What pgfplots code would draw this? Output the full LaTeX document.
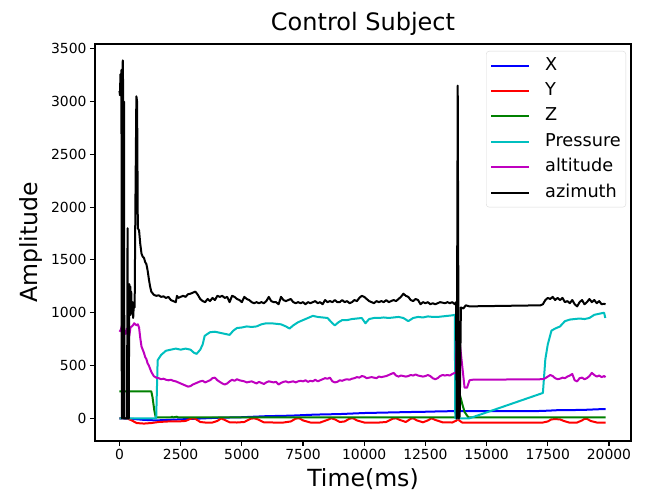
\documentclass[border=0pt]{standalone}
\usepackage{fontspec}
\setmainfont{DejaVu Sans}
\usepackage{pgfplots}
\pgfplotsset{compat=1.18}

\definecolor{mplb}{rgb}{0,0,1}
\definecolor{mplr}{rgb}{1,0,0}
\definecolor{mplg}{rgb}{0,0.5,0}
\definecolor{mplc}{rgb}{0,0.75,0.75}
\definecolor{mplm}{rgb}{0.75,0,0.75}

\begin{document}
\begin{tikzpicture}
\begin{axis}[
    scale only axis,
    width=536pt, height=397pt,
    xmin=-1000, xmax=20900,
    ymin=-215, ymax=3545,
    xtick={0,2500,...,20000},
    ytick={0,500,...,3500},
    scaled ticks=false,
    tick pos=left,
    tick align=outside,
    major tick length=5pt,
    every tick/.style={black, line width=1.1pt},
    axis line style={line width=1.1pt},
    ticklabel style={font=\fontsize{13.9}{16}\selectfont},
    /pgf/number format/assume math mode=true,
    /pgf/number format/set thousands separator={},
    title={Control Subject},
    title style={font=\fontsize{24}{28}\selectfont, at={(0.5,1)}, anchor=south, yshift=-1pt},
    xlabel={Time(ms)},
    xlabel style={font=\fontsize{23.6}{28}\selectfont, at={(axis description cs:0.5,0)}, anchor=north, yshift=-24pt},
    legend cell align=left,
    legend image code/.code={\draw[#1, line width=2pt] (0pt,0pt) -- (38pt,0pt);},
    legend style={
        at={(rel axis cs:1,1)}, anchor=north east, xshift=-5pt, yshift=-7pt,
        draw=black!15, rounded corners=3pt, fill=white,
        font=\fontsize{17.7}{20}\selectfont,
        inner xsep=4pt, inner ysep=5pt, row sep=6.4pt,
        nodes={inner sep=1pt, text height=13pt, text depth=4pt},
        /tikz/every odd column/.append style={column sep=14pt},
    },
    every axis plot/.append style={line width=2pt, line join=round},
]
% X
\addplot[mplb] coordinates {
(0,0) (500,-5) (1000,-15) (1500,-20) (2000,-15) (2500,-10) (3000,-5) (3500,0) (4000,5)
(5000,10) (6000,20) (7000,25) (8000,35) (9000,40) (10000,50) (11000,55) (12000,60)
(12500,62) (13000,65) (13700,68) (14000,68) (17000,68) (17500,72) (18000,78) (18500,78)
(19000,80) (19500,85) (19860,88)};
\addlegendentry{X}
% Y
\addplot[mplr] coordinates {
(0,0) (300,0) (500,-20) (700,-45) (1000,-50) (1300,-45) (1600,-35) (2000,-30) (2400,-30)
(2700,-25) (2900,-5) (3000,0) (3100,-5) (3300,-35) (3500,-40) (3800,-40) (4000,-25)
(4150,-2) (4300,-15) (4500,-38) (4800,-40) (5100,-35) (5350,-5) (5500,0) (5650,-10)
(5900,-38) (6300,-40) (6700,-40) (7000,-30) (7200,-3) (7350,0) (7500,-20) (7800,-40)
(8200,-40) (8500,-15) (8650,0) (8800,-10) (9000,-35) (9200,-30) (9400,-3) (9550,0)
(9700,-20) (10000,-40) (10500,-42) (10900,-35) (11150,-5) (11300,0) (11450,-15)
(11700,-35) (11900,-5) (12000,0) (12150,-20) (12400,-38) (12600,-20) (12750,0)
(12900,-15) (13200,-38) (13600,-40) (13780,-20) (13830,15) (13880,-20) (14000,-40)
(17300,-40) (17500,-30) (17650,-10) (17800,-8) (18000,-10) (18150,-25) (18400,-42)
(18700,-40) (18900,-20) (19000,-5) (19100,-5) (19250,-25) (19500,-40) (19860,-42)};
\addlegendentry{Y}
% Z
\addplot[mplg] coordinates {
(0,255) (1300,255) (1350,200) (1420,80) (1480,10) (1500,8) (2100,8) (2150,15) (2200,8)
(2350,15) (2400,8) (13780,8) (13830,260) (13900,230) (14000,140) (14100,60) (14250,10)
(14300,8) (19860,8)};
\addlegendentry{Z}
% Pressure
\addplot[mplc] coordinates {
(0,0) (1500,0) (1560,550) (1700,600) (1900,640) (2100,650) (2300,660) (2500,650)
(2700,660) (2900,650) (3050,620) (3150,610) (3300,650) (3400,700) (3480,780) (3600,800)
(3700,815) (3900,820) (4100,810) (4300,800) (4500,790) (4650,830) (4800,855) (5000,860)
(5200,870) (5400,865) (5600,870) (5800,890) (6000,900) (6200,900) (6400,895) (6600,890)
(6800,870) (6950,850) (7100,880) (7300,910) (7500,930) (7700,950) (7900,970) (8100,960)
(8300,955) (8500,950) (8700,900) (8800,880) (8950,910) (9100,930) (9300,930) (9500,940)
(9700,945) (9900,950) (10050,900) (10200,940) (10400,950) (10600,950) (10800,955)
(11000,950) (11200,955) (11400,960) (11600,950) (11800,920) (12000,950) (12200,960)
(12400,955) (12600,965) (12800,960) (13000,960) (13200,965) (13400,970) (13600,975)
(13700,980) (13720,0) (14300,0) (17300,240) (17400,560) (17500,700) (17650,830)
(17800,850) (18000,870) (18200,920) (18400,935) (18600,940) (18800,945) (19000,940)
(19200,950) (19400,980) (19600,990) (19800,1000) (19850,950)};
\addlegendentry{Pressure}
% altitude
\addplot[mplm] coordinates {
(0,820) (60,840) (100,880) (150,870) (200,820) (250,800) (300,850) (350,790) (400,780)
(450,860) (500,870) (550,880) (600,900) (650,890) (700,880) (750,890) (800,860)
(850,760) (900,680) (950,650) (1000,620) (1050,580) (1100,560) (1150,520) (1200,500)
(1250,470) (1300,440) (1400,400) (1500,385) (1600,380) (1700,370) (1800,375) (1900,365)
(2000,360) (2100,365) (2200,355) (2300,350) (2400,340) (2500,330) (2600,320) (2700,310)
(2800,300) (2900,305) (3000,320) (3100,330) (3200,340) (3300,350) (3400,355) (3500,340)
(3600,350) (3700,360) (3800,380) (3900,385) (4000,360) (4100,345) (4200,330) (4300,320)
(4400,330) (4500,350) (4600,365) (4700,355) (4800,370) (4900,360) (5000,355) (5100,350)
(5200,340) (5300,345) (5400,350) (5500,340) (5600,330) (5700,345) (5800,335) (5900,325)
(6000,340) (6100,350) (6200,345) (6300,340) (6400,345) (6500,320) (6600,335) (6700,345)
(6800,350) (6900,340) (7000,345) (7100,350) (7200,340) (7300,350) (7400,355) (7500,350)
(7600,360) (7700,345) (7800,355) (7900,350) (8000,365) (8100,350) (8200,360) (8300,370)
(8400,380) (8500,375) (8600,385) (8700,350) (8800,340) (8900,345) (9000,360) (9100,355)
(9200,365) (9300,370) (9400,365) (9500,375) (9600,380) (9700,390) (9800,385) (9900,400)
(10000,395) (10100,380) (10200,385) (10300,390) (10400,385) (10500,380) (10600,395)
(10700,390) (10800,395) (10900,400) (11000,410) (11100,420) (11200,430) (11300,405)
(11400,395) (11500,405) (11600,400) (11700,395) (11800,400) (11900,410) (12000,405)
(12100,415) (12200,405) (12300,400) (12400,395) (12500,400) (12600,410) (12700,400)
(12800,380) (12900,370) (13000,380) (13100,400) (13200,410) (13300,405) (13400,410)
(13500,405) (13600,420) (13700,430) (13750,430) (13780,980) (14100,290) (14200,290)
(14300,360) (14400,365) (17300,370) (17400,380) (17500,395) (17600,410) (17700,400)
(17800,380) (17900,370) (18000,375) (18100,385) (18200,380) (18300,395) (18400,405)
(18500,420) (18600,360) (18700,350) (18800,380) (18900,385) (19000,370) (19100,380)
(19200,400) (19300,430) (19400,410) (19500,395) (19600,405) (19700,390) (19800,400)
(19860,390)};
\addlegendentry{altitude}
% azimuth
\addplot[black] coordinates {
(0,3100) (20,3060) (40,3260) (60,3100) (80,3300) (95,0) (110,3200) (135,3390)
(150,3100) (165,0) (185,3000) (200,0) (310,0) (330,1800) (350,0) (380,0) (400,1270)
(420,1050) (440,1250) (460,980) (480,1200) (500,1020) (530,1100) (560,950) (590,1100)
(620,1050) (650,2000) (690,3050) (720,3000) (750,1800) (800,1780) (850,1650) (900,1560)
(950,1530) (1000,1520) (1050,1480) (1100,1460) (1150,1400) (1200,1320) (1250,1250)
(1300,1200) (1400,1170) (1500,1160) (1600,1165) (1700,1150) (1800,1155) (1900,1140)
(2000,1150) (2100,1120) (2200,1110) (2300,1100) (2350,1160) (2400,1140) (2500,1150)
(2600,1160) (2700,1150) (2800,1175) (2900,1180) (3000,1190) (3100,1200) (3200,1170)
(3300,1130) (3400,1110) (3500,1100) (3600,1130) (3700,1110) (3800,1140) (3900,1120)
(4000,1160) (4100,1150) (4200,1160) (4300,1140) (4400,1150) (4500,1100) (4600,1160)
(4700,1150) (4800,1130) (4900,1120) (5000,1100) (5100,1150) (5200,1130) (5300,1120)
(5400,1100) (5500,1090) (5600,1100) (5700,1090) (5800,1100) (5900,1090) (6000,1110)
(6100,1150) (6200,1110) (6300,1100) (6400,1100) (6500,1080) (6600,1150) (6700,1120)
(6800,1110) (6900,1120) (7000,1130) (7100,1100) (7200,1090) (7300,1100) (7400,1090)
(7500,1100) (7600,1080) (7700,1100) (7800,1090) (7900,1100) (8000,1110) (8100,1090)
(8200,1100) (8300,1080) (8400,1120) (8500,1100) (8600,1110) (8700,1100) (8800,1120)
(8900,1100) (9000,1100) (9100,1120) (9200,1100) (9300,1110) (9400,1090) (9500,1100)
(9600,1120) (9700,1110) (9800,1140) (9900,1160) (10000,1150) (10100,1130) (10200,1110)
(10300,1100) (10400,1090) (10500,1110) (10600,1100) (10700,1110) (10800,1100)
(10900,1120) (11000,1100) (11100,1110) (11200,1120) (11300,1110) (11400,1130)
(11500,1150) (11600,1180) (11700,1160) (11800,1150) (11900,1120) (12000,1110)
(12100,1130) (12200,1120) (12300,1080) (12400,1100) (12500,1090) (12600,1100)
(12700,1080) (12800,1090) (12900,1080) (13000,1090) (13100,1100) (13200,1095)
(13300,1090) (13400,1100) (13500,1090) (13600,1100) (13700,1080) (13750,1100)
(13780,0) (13820,3150) (13860,0) (13900,20) (13950,1050) (14050,1040) (14150,1070)
(14300,1060) (17200,1070) (17300,1080) (17400,1120) (17500,1140) (17600,1130)
(17700,1150) (17800,1120) (17900,1140) (18000,1120) (18100,1140) (18200,1100)
(18300,1110) (18400,1090) (18500,1120) (18600,1080) (18700,1060) (18800,1100)
(18900,1120) (19000,1080) (19100,1100) (19200,1130) (19300,1100) (19400,1120)
(19500,1090) (19600,1110) (19700,1080) (19800,1085) (19860,1080)};
\addlegendentry{azimuth}
\end{axis}
% y axis label
\node[rotate=90, anchor=south, inner sep=0pt, font=\fontsize{23.6}{28}\selectfont]
    at ([xshift=-52pt]current axis.west) {Amplitude};
\pgfresetboundingbox
\path ([xshift=-95pt,yshift=-59pt]current axis.south west) rectangle ([xshift=15pt,yshift=44pt]current axis.north east);
\end{tikzpicture}
\end{document}
